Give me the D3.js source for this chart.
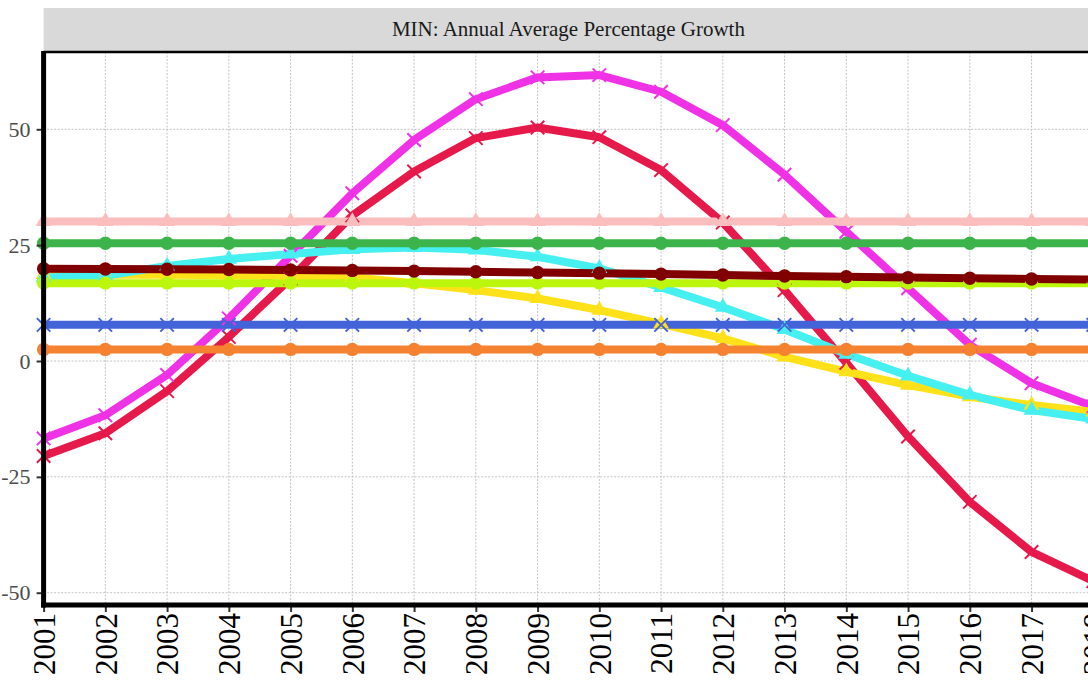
<!DOCTYPE html>
<html>
<head>
<meta charset="utf-8">
<script src="https://cdn.jsdelivr.net/npm/d3@7"></script>
<style>
  body { margin: 0; background: #fff; }
  svg { display: block; }
  svg text { font-family: "Liberation Serif", "Times New Roman", serif; }
</style>
</head>
<body>
<svg id="chart"></svg>
<script>
// years on the x axis
const years = d3.range(2001, 2019);
const yTicks = [-50, -25, 0, 25, 50];
const title = "MIN: Annual Average Percentage Growth";

// series values, one per year 2001..2018
const redVals = [-20.5, -15.6, -6.5, 5.2, 17.8, 31.4, 40.9, 48.1, 50.4, 48.3, 41.2, 29.9, 15.3, -0.4, -16.3, -30.4, -41.2, -47.5];
const magentaVals = [-16.7, -11.7, -3.0, 9.2, 22.7, 36.2, 47.7, 56.5, 61.2, 61.7, 58.1, 50.9, 40.2, 27.9, 15.7, 3.5, -4.8, -9.8];
const yellowVals = [18.7, 18.6, 18.6, 18.5, 18.4, 18.1, 16.8, 15.3, 13.5, 11.0, 8.0, 4.9, 0.9, -2.3, -5.2, -7.7, -9.5, -11.0];
const cyanVals = [18.0, 18.4, 20.5, 22.0, 23.1, 24.1, 24.5, 24.0, 22.5, 20.0, 15.9, 11.6, 6.8, 1.5, -3.2, -7.3, -10.6, -12.5];
const limeVals = years.map(() => 16.8);
const blueVals = years.map(() => 7.8);
const orangeVals = years.map(() => 2.5);
const greenVals = years.map(() => 25.4);
const pinkVals = years.map(() => 30.1);
const maroonVals = [19.9, 19.85, 19.8, 19.75, 19.65, 19.55, 19.4, 19.25, 19.1, 18.95, 18.75, 18.55, 18.35, 18.2, 18.0, 17.85, 17.7, 17.55];

// drawing order, bottom to top
const series = [
  { values: redVals, color: "#e6194b", shape: "x" },
  { values: magentaVals, color: "#f032e6", shape: "x" },
  { values: yellowVals, color: "#ffe119", shape: "triangle" },
  { values: cyanVals, color: "#46f0f0", shape: "triangle" },
  { values: limeVals, color: "#bcf60c", shape: "circle" },
  { values: blueVals, color: "#4363d8", shape: "x" },
  { values: orangeVals, color: "#f58231", shape: "circle" },
  { values: greenVals, color: "#3cb44b", shape: "circle" },
  { values: pinkVals, color: "#fabebe", shape: "triangle" },
  { values: maroonVals, color: "#800000", shape: "circle" }
];

const W = 1088, H = 683;
const plotLeft = 43.6, plotRight = 1093.3, plotTop = 52, plotBottom = 605;
const serif = "'Liberation Serif', 'Times New Roman', serif";

const svg = d3.select("#chart").attr("width", W).attr("height", H);

const x = d3.scaleLinear().domain([2001, 2018]).range([plotLeft, plotRight]);
const y = d3.scaleLinear().domain([-52.65, 66.68]).range([plotBottom, plotTop]);

// strip title
svg.append("rect")
  .attr("x", plotLeft).attr("y", 8)
  .attr("width", W - plotLeft).attr("height", 43)
  .attr("fill", "#d9d9d9");
svg.append("text")
  .attr("x", (plotLeft + plotRight) / 2).attr("y", 36)
  .attr("text-anchor", "middle")
  .style("font-family", serif)
  .style("font-size", "21px")
  .attr("fill", "#1a1a1a")
  .text(title);

// grid
const grid = svg.append("g")
  .attr("stroke", "#c4c4c4").attr("stroke-width", 1).attr("stroke-dasharray", "2,1.5");
grid.selectAll("line.v").data(years).enter().append("line")
  .attr("x1", d => x(d)).attr("x2", d => x(d))
  .attr("y1", plotTop).attr("y2", plotBottom);
grid.selectAll("line.h").data(yTicks).enter().append("line")
  .attr("x1", plotLeft).attr("x2", plotRight)
  .attr("y1", d => y(d)).attr("y2", d => y(d));

// top border of panel
svg.append("line")
  .attr("x1", plotLeft).attr("x2", W).attr("y1", plotTop).attr("y2", plotTop)
  .attr("stroke", "#000").attr("stroke-width", 2.5);

// lines
const line = d3.line().x((d, i) => x(years[i])).y(d => y(d));
svg.append("g").selectAll("path").data(series).enter().append("path")
  .attr("d", d => line(d.values))
  .attr("fill", "none")
  .attr("stroke", d => d.color)
  .attr("stroke-width", 8)
  .attr("stroke-linejoin", "round");

// points
const symbols = {
  circle: d3.symbol().type(d3.symbolCircle).size(140),
  triangle: d3.symbol().type(d3.symbolTriangle).size(110),
  x: d3.symbol().type(d3.symbolX).size(120)
};
series.forEach(s => {
  svg.append("g").selectAll("path").data(s.values).enter().append("path")
    .attr("transform", (d, i) => `translate(${x(years[i])},${y(d)})`)
    .attr("d", symbols[s.shape]())
    .attr("fill", s.shape === "x" ? "none" : s.color)
    .attr("stroke", s.color)
    .attr("stroke-width", s.shape === "x" ? 2 : 0);
});

// y axis
const yAxis = svg.append("g")
  .attr("transform", `translate(${plotLeft - 2},0)`)
  .call(d3.axisLeft(y).tickValues(yTicks).tickFormat(d => String(d)).tickSize(5).tickPadding(6));
yAxis.attr("font-family", null);
yAxis.select(".domain").remove();
yAxis.selectAll(".tick line").attr("stroke", "#333").attr("stroke-width", 2);
yAxis.selectAll(".tick text")
  .style("font-family", serif)
  .style("font-size", "22px")
  .attr("fill", "#4d4d4d");

// x axis
const xAxis = svg.append("g")
  .attr("transform", `translate(0,${plotBottom + 2})`)
  .call(d3.axisBottom(x).tickValues(years).tickFormat(d => String(d)).tickSize(5).tickPadding(6));
xAxis.attr("font-family", null);
xAxis.select(".domain").remove();
xAxis.selectAll(".tick line").attr("stroke", "#333").attr("stroke-width", 2);
xAxis.selectAll(".tick text")
  .style("font-family", serif)
  .style("font-size", "31px")
  .attr("fill", "#000")
  .attr("text-anchor", "end")
  .attr("dy", "0.35em")
  .attr("transform", "translate(0,6) rotate(-90)")
  .attr("x", 0).attr("y", 0);

// axis lines
svg.append("line")
  .attr("x1", plotLeft).attr("x2", plotLeft).attr("y1", plotTop - 1).attr("y2", plotBottom + 2.5)
  .attr("stroke", "#000").attr("stroke-width", 5);
svg.append("line")
  .attr("x1", plotLeft - 2.5).attr("x2", W).attr("y1", plotBottom).attr("y2", plotBottom)
  .attr("stroke", "#000").attr("stroke-width", 5);
</script>
</body>
</html>
